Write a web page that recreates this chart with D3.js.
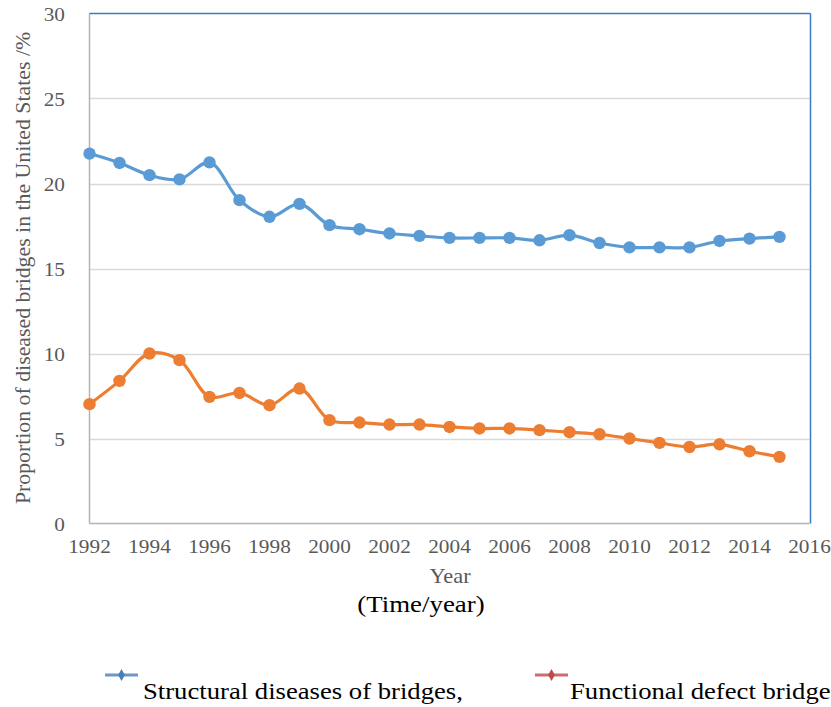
<!DOCTYPE html>
<html>
<head>
<meta charset="utf-8">
<script src="https://cdn.jsdelivr.net/npm/d3@7"></script>
<style>
  html, body { margin: 0; padding: 0; background: #fff; }
  svg { display: block; }
</style>
</head>
<body>
<svg id="chart" width="831" height="707"></svg>
<script>
// Share of deficient bridges in the United States, 1992-2015 (%)
const years = [1992, 1993, 1994, 1995, 1996, 1997, 1998, 1999, 2000, 2001, 2002, 2003,
               2004, 2005, 2006, 2007, 2008, 2009, 2010, 2011, 2012, 2013, 2014, 2015];
const structural = [21.76, 21.21, 20.49, 20.24, 21.24, 19.02, 18.04, 18.80, 17.55, 17.31, 17.06, 16.92,
                    16.80, 16.80, 16.80, 16.66, 16.96, 16.50, 16.24, 16.24, 16.24, 16.62, 16.76, 16.86];
const functional = [7.02, 8.39, 10.00, 9.61, 7.45, 7.68, 6.96, 7.94, 6.08, 5.94, 5.82, 5.82,
                    5.68, 5.59, 5.59, 5.49, 5.37, 5.25, 5.00, 4.74, 4.50, 4.66, 4.25, 3.92];
const xTicks = [1992, 1994, 1996, 1998, 2000, 2002, 2004, 2006, 2008, 2010, 2012, 2014, 2016];
const yTicks = [0, 5, 10, 15, 20, 25, 30];
const seriesNames = ["Structural diseases of bridges,", "Functional defect bridge"];
const yTitle = "Proportion of diseased bridges in the United States /%";
const xTitle = "Year";
const xSubTitle = "(Time/year)";

const FONT = "'Liberation Serif', 'Times New Roman', Times, Tinos, 'DejaVu Serif', serif";

const svg = d3.select("#chart");
const plot = { left: 89.5, right: 809.5, top: 13.5, bottom: 523.5 };

const x = d3.scaleLinear().domain([1992, 2016]).range([plot.left, plot.right]);
const y = d3.scaleLinear().domain([0, 30]).range([plot.bottom, plot.top]);

// text drawn slightly wider than its natural width
const SX = 1.12;
function label(g, tx, ty, str, opts) {
  const grp = g.append("g").attr("transform", `translate(${tx},${ty}) scale(${opts.sx || SX},1)`);
  return grp.append("text")
    .attr("text-anchor", opts.anchor || "middle")
    .style("font-family", FONT)
    .attr("font-size", opts.size)
    .attr("fill", opts.fill || "#000")
    .text(str);
}

// horizontal gridlines
svg.append("g")
  .selectAll("line")
  .data(yTicks.filter(t => t > 0 && t < 30))
  .join("line")
  .attr("x1", plot.left).attr("x2", plot.right)
  .attr("y1", d => Math.round(y(d)) + 0.5).attr("y2", d => Math.round(y(d)) + 0.5)
  .attr("stroke", "#d9d9d9").attr("stroke-width", 1.5);

// frame: gray axes on the left/bottom, blue edge on the top/right
svg.append("line").attr("x1", plot.left).attr("x2", plot.left)
  .attr("y1", plot.top).attr("y2", plot.bottom).attr("stroke", "#b4b4b4").attr("stroke-width", 1.5);
svg.append("line").attr("x1", plot.left).attr("x2", plot.right)
  .attr("y1", plot.bottom).attr("y2", plot.bottom).attr("stroke", "#b4b4b4").attr("stroke-width", 1.5);
svg.append("line").attr("x1", plot.left).attr("x2", plot.right + 1)
  .attr("y1", plot.top).attr("y2", plot.top).attr("stroke", "#3a7cc0").attr("stroke-width", 1.5);
svg.append("line").attr("x1", plot.right + 1).attr("x2", plot.right + 1)
  .attr("y1", plot.top).attr("y2", plot.bottom).attr("stroke", "#3a7cc0").attr("stroke-width", 1.5);

// tick labels
const tickG = svg.append("g");
yTicks.forEach(t => label(tickG, 65, y(t) + 7, String(t), { size: 19, anchor: "end", fill: "#595959" }));
xTicks.forEach(t => label(tickG, x(t), 553, String(t), { size: 19, fill: "#595959" }));

// axis titles
label(svg, 450, 583, xTitle, { size: 20, fill: "#595959" });
label(svg, 421, 612, xSubTitle, { size: 24 });
svg.append("text")
  .attr("transform", `translate(30,268) rotate(-90)`)
  .attr("text-anchor", "middle")
  .style("font-family", FONT)
  .attr("font-size", 21.8)
  .attr("fill", "#595959")
  .text(yTitle);

// series
const series = [
  { values: structural, color: "#5b9bd5" },
  { values: functional, color: "#ed7d31" }
];
const line = d3.line()
  .x(d => x(d.year)).y(d => y(d.value))
  .curve(d3.curveCatmullRom.alpha(0.5));

series.forEach(s => {
  const pts = years.map((yr, i) => ({ year: yr, value: s.values[i] }));
  svg.append("path").datum(pts)
    .attr("d", line)
    .attr("fill", "none")
    .attr("stroke", s.color)
    .attr("stroke-width", 3.2)
    .attr("stroke-linejoin", "round");
  svg.append("g").selectAll("circle").data(pts).join("circle")
    .attr("cx", d => x(d.year)).attr("cy", d => y(d.value))
    .attr("r", 6.2)
    .attr("fill", s.color);
});

// legend
const legendItems = [
  { name: seriesNames[0], color: "#4a7ebb", x0: 105, tx: 143 },
  { name: seriesNames[1], color: "#be4b48", x0: 535, tx: 570 }
];
legendItems.forEach(it => {
  const g = svg.append("g");
  g.append("line").attr("x1", it.x0).attr("x2", it.x0 + 33)
    .attr("y1", 675).attr("y2", 675)
    .attr("stroke", it.color).attr("stroke-width", 3).attr("opacity", 0.8);
  g.append("path")
    .attr("d", d3.symbol(d3.symbolDiamond, 40)())
    .attr("transform", `translate(${it.x0 + 16.5},675)`)
    .attr("fill", it.color);
  label(g, it.tx, 699, it.name, { size: 23, anchor: "start", sx: 1.16 });
});
</script>
</body>
</html>
